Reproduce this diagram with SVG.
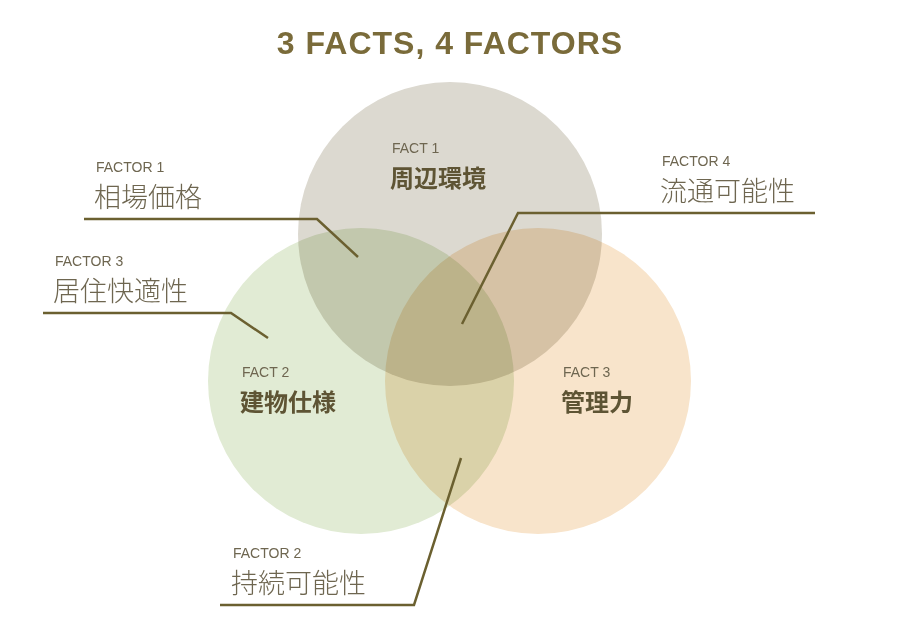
<svg xmlns="http://www.w3.org/2000/svg" width="900" height="628" viewBox="0 0 900 628">
<style>
.c{mix-blend-mode:multiply}
.t{font-family:"Noto Sans CJK JP","Noto Sans",sans-serif;fill:#5e5434}
.s{font-family:"Liberation Sans",sans-serif;font-size:14px;fill:#6e6650}
.j{font-family:"Noto Sans CJK JP",sans-serif;font-size:27px;fill:#6e6650;font-weight:300}
.b{font-family:"Noto Sans CJK JP",sans-serif;font-size:24px;fill:#5e5434;font-weight:700}
.l{fill:none;stroke:#6b6030;stroke-width:2.5}
</style>
<rect width="900" height="628" fill="#fff"/>
<text x="450" y="54" text-anchor="middle" font-family="'Liberation Sans',sans-serif" font-weight="700" font-size="32" fill="#7a6b3a" letter-spacing="1">3 FACTS,  4 FACTORS</text>
<g id="fact1"><circle class="c" cx="450" cy="234" r="152" fill="#dcd9d0"/></g>
<g id="fact2"><circle class="c" cx="361" cy="381" r="153" fill="#e1ebd4"/></g>
<g id="fact3"><circle class="c" cx="538" cy="381" r="153" fill="#f8e4cb"/></g>
<g id="labels">
<text class="s" x="392" y="153">FACT 1</text><text class="b" x="390" y="187">周辺環境</text>
<text class="s" x="242" y="377">FACT 2</text><text class="b" x="240" y="411">建物仕様</text>
<text class="s" x="563" y="377">FACT 3</text><text class="b" x="561" y="411">管理力</text>
</g>
<g id="factor1"><text class="s" x="96" y="172">FACTOR 1</text><text class="j" x="94" y="207">相場価格</text></g>
<g id="factor3"><text class="s" x="55" y="266">FACTOR 3</text><text class="j" x="53" y="301">居住快適性</text></g>
<g id="factor4"><text class="s" x="662" y="166">FACTOR 4</text><text class="j" x="660" y="201">流通可能性</text></g>
<g id="factor2"><text class="s" x="233" y="558">FACTOR 2</text><text class="j" x="231" y="593">持続可能性</text></g>
<g id="connectors">
<polyline class="l" points="84,219 317,219 358,257"/>
<polyline class="l" points="43,313 231,313 268,338"/>
<polyline class="l" points="220,605 414,605 461,458"/>
<polyline class="l" points="815,213 518,213 462,324"/>
</g>
</svg>
